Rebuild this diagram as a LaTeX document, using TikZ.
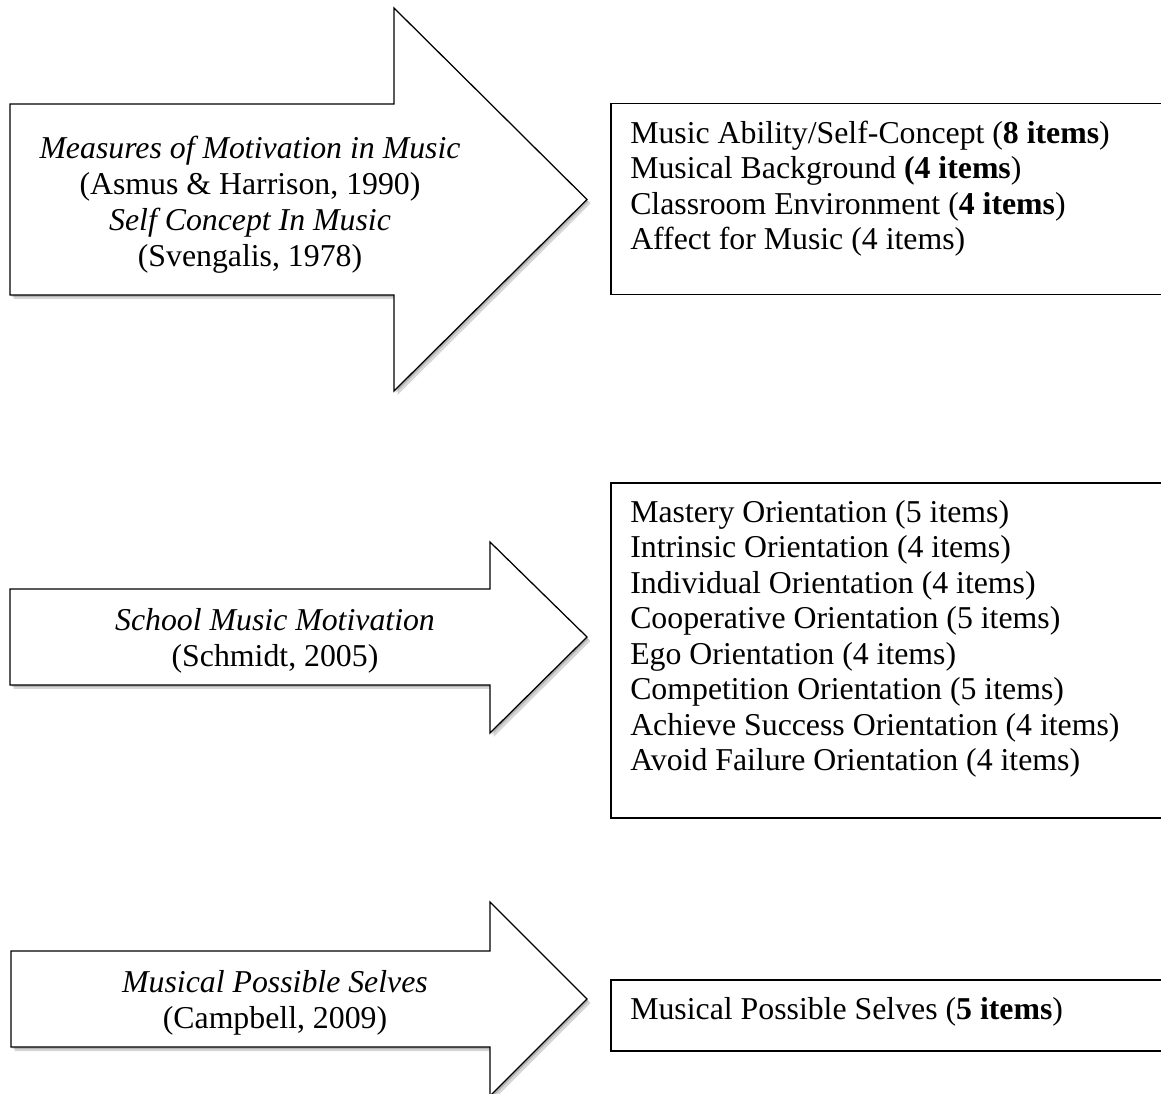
\documentclass[tikz,border=0pt]{standalone}
\usepackage{fontspec}
\setmainfont{Liberation Serif}
\begin{document}
\begin{tikzpicture}[x=0.75pt,y=-0.75pt,
  arrowshape/.style={draw=black,line width=0.95pt,fill=white,line join=miter},
  shadowshape/.style={fill=black,opacity=0.16,draw=none},
  listbox/.style={draw=black,line width=1.4pt,fill=white,inner sep=0pt,outer sep=0pt,anchor=north west,minimum width=423pt},
  lbl/.style={font=\fontsize{23.85}{27}\selectfont,inner sep=0pt,align=center},
  listtxt/.style={font=\fontsize{23.85}{26.6}\selectfont,inner sep=0pt,align=left,anchor=north west}]
\useasboundingbox (0,0) rectangle (1161,1094);
\clip (0,0) rectangle (1161,1094);
\fill[white] (0,0) rectangle (1161,1094);
% block arrows: shaft left / shaft top / shaft bottom / head base / head top / head bottom / tip x / tip y
\foreach \xl/\st/\sb/\xb/\ht/\hb/\xt/\c in {10/104/295/394/8/391/587/199.5,
  10/589/685/490/542/733/587/637,
  11/951/1047/490/902/1096/587/999}{
  \begin{scope}[shift={(3.5,4)}]
    \fill[shadowshape] (\xl,\st) -- (\xb,\st) -- (\xb,\ht) -- (\xt,\c) -- (\xb,\hb) -- (\xb,\sb) -- (\xl,\sb) -- cycle;
  \end{scope}
  \begin{scope}[shift={(1.5,2)}]
    \fill[shadowshape] (\xl,\st) -- (\xb,\st) -- (\xb,\ht) -- (\xt,\c) -- (\xb,\hb) -- (\xb,\sb) -- (\xl,\sb) -- cycle;
  \end{scope}
  \path[arrowshape] (\xl,\st) -- (\xb,\st) -- (\xb,\ht) -- (\xt,\c) -- (\xb,\hb) -- (\xb,\sb) -- (\xl,\sb) -- cycle;
}
\node[lbl] (a1) at (250,205) {\textit{Measures of Motivation in Music}\\(Asmus \& Harrison, 1990)\\\textit{Self Concept In Music}\\(Svengalis, 1978)};
\node[lbl] (a2) at (275,641) {\textit{School Music Motivation}\\(Schmidt, 2005)};
\node[lbl] (a3) at (275,1003) {\textit{Musical Possible Selves}\\(Campbell, 2009)};
% list boxes
\node[listbox,minimum height=143.25pt] (b1) at (611,103.5) {};
\node[listbox,minimum height=251.25pt] (b2) at (611,483) {};
\node[listbox,minimum height=53.25pt] (b3) at (611,980) {};
\node[listtxt] (t1) at ([shift={(19,17)}]b1.north west) {Music Ability/Self-Concept (\textbf{8 items})\\Musical Background \textbf{(4 items})\\Classroom Environment (\textbf{4 items})\\Affect for Music (4 items)};
\node[listtxt] (t2) at ([shift={(19,17)}]b2.north west) {Mastery Orientation (5 items)\\Intrinsic Orientation (4 items)\\Individual Orientation (4 items)\\Cooperative Orientation (5 items)\\Ego Orientation (4 items)\\Competition Orientation (5 items)\\Achieve Success Orientation (4 items)\\Avoid Failure Orientation (4 items)};
\node[listtxt] (t3) at ([shift={(19,17)}]b3.north west) {Musical Possible Selves (\textbf{5 items})};
\end{tikzpicture}
\end{document}
